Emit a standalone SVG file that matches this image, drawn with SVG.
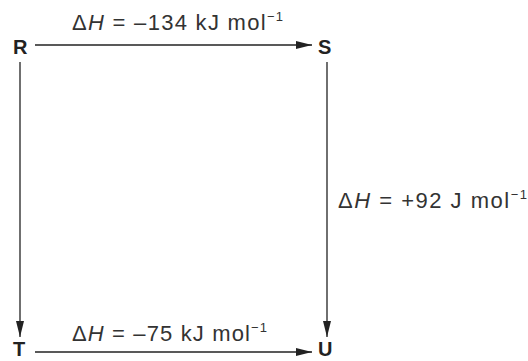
<svg xmlns="http://www.w3.org/2000/svg" width="528" height="361" viewBox="0 0 528 361">
<style>
.node{font-family:"Liberation Sans",Arial,sans-serif;font-weight:bold;font-size:20px;fill:#222}
.lbl{font-family:"Liberation Sans",Arial,sans-serif;font-size:22px;fill:#333}
.sup{font-size:13px}
.c{stroke:#222;stroke-width:1.3;fill:none}
</style>
<defs>
<marker id="ah" viewBox="0 0 16 8" refX="16" refY="4" markerWidth="16" markerHeight="8" markerUnits="userSpaceOnUse" orient="auto">
<path d="M0,0 L16,4 L0,8 Z" fill="#222"/>
</marker>
</defs>
<rect width="528" height="361" fill="#fff"/>
<g id="connectors">
<line class="c" x1="35" y1="45" x2="312" y2="45" marker-end="url(#ah)"/>
<line class="c" x1="20" y1="62" x2="20" y2="337" marker-end="url(#ah)"/>
<line class="c" x1="327" y1="62" x2="327" y2="337" marker-end="url(#ah)"/>
<line class="c" x1="35" y1="352" x2="312" y2="352" marker-end="url(#ah)"/>
</g>
<g id="R"><text class="node" x="13" y="54">R</text></g>
<g id="S"><text class="node" x="318" y="54">S</text></g>
<g id="T"><text class="node" x="13" y="356">T</text></g>
<g id="U"><text class="node" x="318" y="356">U</text></g>
<g id="label-RS"><text class="lbl" x="72" y="30" textLength="211" lengthAdjust="spacing">Δ<tspan font-style="italic">H</tspan> = –134 kJ mol<tspan class="sup" dy="-9">−1</tspan></text></g>
<g id="label-SU"><text class="lbl" x="338" y="208" textLength="189" lengthAdjust="spacing">Δ<tspan font-style="italic">H</tspan> = +92 J mol<tspan class="sup" dy="-9">−1</tspan></text></g>
<g id="label-TU"><text class="lbl" x="72" y="341" textLength="195" lengthAdjust="spacing">Δ<tspan font-style="italic">H</tspan> = –75 kJ mol<tspan class="sup" dy="-9">−1</tspan></text></g>
</svg>
